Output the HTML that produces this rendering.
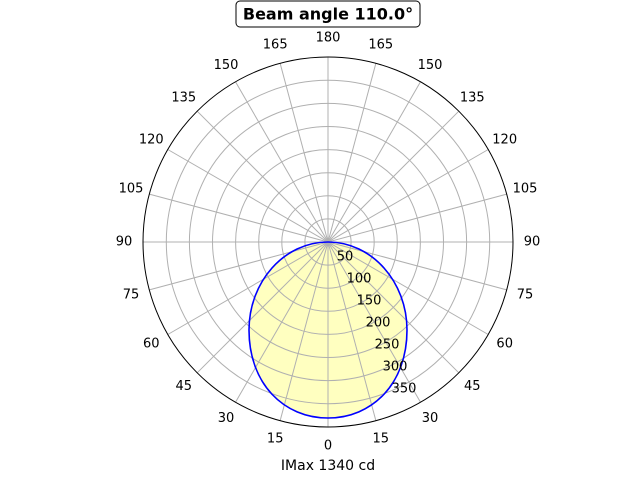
<!DOCTYPE html>
<html><head><style>
html,body{margin:0;padding:0;background:#fff;}
svg text{font-family:"DejaVu Sans","Liberation Sans",sans-serif;font-size:13px;fill:#000;}
</style></head><body>
<svg width="640" height="480" viewBox="0 0 640 480" xmlns="http://www.w3.org/2000/svg">
<path d="M328,242 C372,242 407,282 407,330 C407,384 372,418 328,418 C284,418 249,384 249,330 C249,282 284,242 328,242 Z" fill="#ffffc0" stroke="none"/>
<g stroke="#b0b0b0" stroke-width="1" fill="none">
<circle cx="328" cy="242" r="23.1"/><circle cx="328" cy="242" r="46.2"/><circle cx="328" cy="242" r="69.3"/><circle cx="328" cy="242" r="92.4"/><circle cx="328" cy="242" r="115.5"/><circle cx="328" cy="242" r="138.6"/><circle cx="328" cy="242" r="161.7"/>
<line x1="328" y1="57" x2="328" y2="427"/>
<line x1="143" y1="242" x2="513" y2="242"/>
<line x1="375.88" y1="420.7" x2="280.12" y2="63.3"/>
<line x1="375.88" y1="63.3" x2="280.12" y2="420.7"/>
<line x1="420.5" y1="402.22" x2="235.5" y2="81.78"/>
<line x1="420.5" y1="81.78" x2="235.5" y2="402.22"/>
<line x1="458.81" y1="372.81" x2="197.19" y2="111.19"/>
<line x1="458.81" y1="111.19" x2="197.19" y2="372.81"/>
<line x1="488.22" y1="334.5" x2="167.78" y2="149.5"/>
<line x1="488.22" y1="149.5" x2="167.78" y2="334.5"/>
<line x1="506.7" y1="289.88" x2="149.3" y2="194.12"/>
<line x1="506.7" y1="194.12" x2="149.3" y2="289.88"/>
</g>
<circle cx="328" cy="242" r="185" fill="none" stroke="#000" stroke-width="1"/>
<path d="M328,242 C372,242 407,282 407,330 C407,384 372,418 328,418 C284,418 249,384 249,330 C249,282 284,242 328,242 Z" fill="none" stroke="#0000ff" stroke-width="1.6"/>
<g text-anchor="middle" dominant-baseline="central">
<text x="328" y="446">0</text>
<text x="275.2" y="439">15</text><text x="380.8" y="439">15</text>
<text x="226" y="418.7">30</text><text x="430" y="418.7">30</text>
<text x="183.75" y="386.25">45</text><text x="472.25" y="386.25">45</text>
<text x="151.3" y="344">60</text><text x="504.7" y="344">60</text>
<text x="131" y="294.8">75</text><text x="525" y="294.8">75</text>
<text x="124" y="242">90</text><text x="532" y="242">90</text>
<text x="131" y="189.2">105</text><text x="525" y="189.2">105</text>
<text x="151.3" y="140">120</text><text x="504.7" y="140">120</text>
<text x="183.75" y="97.75">135</text><text x="472.25" y="97.75">135</text>
<text x="226" y="65.3">150</text><text x="430" y="65.3">150</text>
<text x="275.2" y="45">165</text><text x="380.8" y="45">165</text>
<text x="328" y="38">180</text>
<text x="345" y="257">50</text>
<text x="359" y="279">100</text>
<text x="369" y="301">150</text>
<text x="378" y="323">200</text>
<text x="387" y="345">250</text>
<text x="395" y="367">300</text>
<text x="404" y="389">350</text>
<text x="328" y="466" style="font-size:14px">IMax 1340 cd</text>
</g>
<rect x="236" y="1" width="184" height="26" rx="4" ry="4" fill="#fff" stroke="#000" stroke-width="1"/>
<text x="328" y="14" text-anchor="middle" dominant-baseline="central" style="font-size:16px;font-weight:bold">Beam angle 110.0°</text>
</svg>
</body></html>
